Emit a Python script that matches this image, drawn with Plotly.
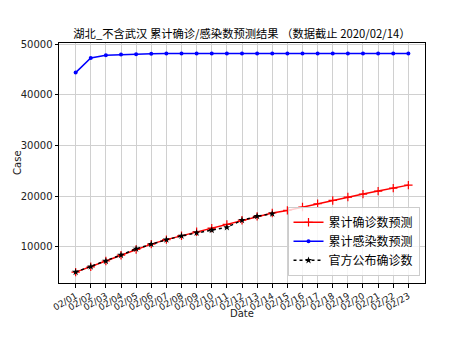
import plotly.graph_objects as go

dates = ["02/%02d" % d for d in range(1, 24)]
pred_confirmed = [4950, 6000, 7150, 8300, 9420, 10480, 11380, 12150, 12920, 13650,
                  14400, 15220, 15970, 16640, 17150, 17820, 18470, 19120, 19790,
                  20380, 20970, 21560, 22150]
pred_infected = [44400, 47300, 47830, 47960, 48030, 48100, 48150, 48150, 48150, 48150,
                 48150, 48150, 48150, 48150, 48150, 48150, 48150, 48150, 48150, 48150,
                 48150, 48150, 48150]
official_dates = dates[:14]
official = [4965, 6035, 7138, 8327, 9548, 10494, 11350, 12118, 12729, 13274,
            13808, 15212, 15995, 16492]
y_ticks = [10000, 20000, 30000, 40000, 50000]

font_fam = "DejaVu Sans, Noto Sans CJK SC, sans-serif"
cjk_fam = "Noto Sans CJK SC, DejaVu Sans, sans-serif"

fig = go.Figure()
fig.add_trace(go.Scatter(x=dates, y=pred_confirmed, mode="lines+markers",
                         name="累计确诊数预测",
                         line=dict(color="red", width=1.5),
                         marker=dict(symbol="cross-thin", size=6,
                                     line=dict(color="red", width=1.2))))
fig.add_trace(go.Scatter(x=dates, y=pred_infected, mode="lines+markers",
                         name="累计感染数预测",
                         line=dict(color="blue", width=1.5),
                         marker=dict(symbol="circle", size=4, color="blue")))
fig.add_trace(go.Scatter(x=official_dates, y=official, mode="lines+markers",
                         name="官方公布确诊数",
                         line=dict(color="black", width=1.5, dash="dot"),
                         marker=dict(symbol="star", size=5.5, color="black")))

fig.update_layout(
    width=472, height=354,
    margin=dict(l=59, r=47, t=43, b=71),
    paper_bgcolor="white", plot_bgcolor="white",
    font=dict(family=font_fam, size=10, color="#222"),
    title=dict(text="湖北_不含武汉 累计确诊/感染数预测结果 （数据截止 2020/02/14）",
               x=0.5125, xanchor="center", y=0.905, yanchor="middle",
               font=dict(family=cjk_fam, size=11.3, color="black")),
    showlegend=True,
    legend=dict(x=0.985, xanchor="right", y=0.03, yanchor="bottom",
                bgcolor="rgba(255,255,255,0.8)", bordercolor="#ccc", borderwidth=1,
                font=dict(family=cjk_fam, size=12, color="black"),
                itemwidth=30, tracegroupgap=0),
    annotations=[
        dict(text="Date", xref="paper", yref="paper", x=0.5, y=-0.128,
             xanchor="center", yanchor="middle", showarrow=False,
             font=dict(size=10, color="#222")),
        dict(text="Case", xref="paper", yref="paper", x=-0.115, y=0.5,
             xanchor="center", yanchor="middle", showarrow=False, textangle=-90,
             font=dict(size=10, color="#222")),
    ],
)
fig.update_xaxes(type="category", range=[-1.1, 23.1], automargin=False,
                 tickvals=dates, ticktext=dates, tickangle=-30,
                 tickfont=dict(size=9, color="#222"),
                 showgrid=True, gridcolor="#d0d0d0", gridwidth=1,
                 showline=True, mirror=True, linecolor="black", linewidth=1,
                 ticks="outside", ticklen=3.5, tickcolor="black",
                 zeroline=False)
fig.update_yaxes(range=[2800, 50250], tickvals=y_ticks, automargin=False,
                 ticktext=[str(v) for v in y_ticks],
                 tickfont=dict(size=10, color="#222"),
                 showgrid=True, gridcolor="#d0d0d0", gridwidth=1,
                 showline=True, mirror=True, linecolor="black", linewidth=1,
                 ticks="outside", ticklen=3.5, tickcolor="black",
                 zeroline=False)

fig.write_html("out.html")
